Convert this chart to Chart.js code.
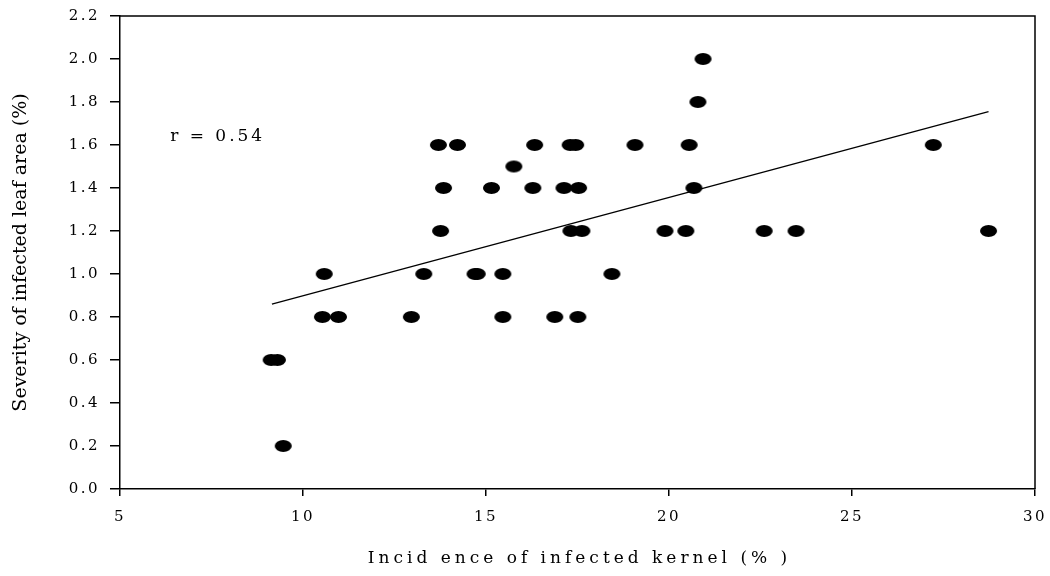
<!DOCTYPE html>
<html>
<head>
<meta charset="utf-8">
<script src="https://cdn.jsdelivr.net/npm/chart.js@4/dist/chart.umd.min.js"></script>
<style>
  html, body { margin: 0; padding: 0; background: #fff; }
  #wrap { width: 1050px; height: 576px; }
</style>
</head>
<body>
<div id="wrap"><canvas id="chart"></canvas></div>
<script>
// Incidence of infected kernel (%) vs severity of infected leaf area (%)
const incidence = [
  20.93, 20.79,
  13.70, 14.22, 16.33, 17.30, 17.45, 19.07, 20.55, 27.22,
  15.76,
  13.84, 15.15, 16.28, 17.13, 17.53, 20.68,
  13.76, 17.32, 17.62, 19.89, 20.46, 22.60, 23.47, 28.73,
  10.58, 13.30, 14.70, 14.76, 15.46, 18.44,
  10.53, 10.97, 12.96, 15.46, 16.88, 17.51,
  9.13, 9.30,
  9.46,
];
const severity = [
  2.0, 1.8,
  1.6, 1.6, 1.6, 1.6, 1.6, 1.6, 1.6, 1.6,
  1.5,
  1.4, 1.4, 1.4, 1.4, 1.4, 1.4,
  1.2, 1.2, 1.2, 1.2, 1.2, 1.2, 1.2, 1.2,
  1.0, 1.0, 1.0, 1.0, 1.0, 1.0,
  0.8, 0.8, 0.8, 0.8, 0.8, 0.8,
  0.6, 0.6,
  0.2,
];
// regression line end points
const fitX = [9.15, 28.73];
const fitY = [0.86, 1.755];

const xMin = 5, xMax = 30, xStep = 5;
const yMin = 0, yMax = 2.2, yStep = 0.2;

const xTitle = 'Incid ence of infected kernel (% )';
const yTitle = 'Severity of infected leaf area (%)';
const rLabel = 'r = 0.54';
const rLabelAt = { x: 6.37, y: 1.637 };

const SERIF = '"DejaVu Serif", "Liberation Serif", serif';

// elliptical marker (the original figure is stretched sideways)
function ellipseMarker(rx, ry) {
  const c = document.createElement('canvas');
  c.width = Math.ceil(rx * 2) + 2;
  c.height = Math.ceil(ry * 2) + 2;
  const g = c.getContext('2d');
  g.fillStyle = '#000';
  g.beginPath();
  g.ellipse(c.width / 2, c.height / 2, rx, ry, 0, 0, Math.PI * 2);
  g.fill();
  return c;
}

const spacingPlugin = {
  id: 'spacing',
  beforeLayout(chart) { chart.ctx.letterSpacing = '2.5px'; },
  beforeDraw(chart) { chart.ctx.letterSpacing = '2.5px'; },
};

const framePlugin = {
  id: 'frame',
  afterDraw(chart) {
    const { ctx, chartArea: a, scales } = chart;
    ctx.save();
    ctx.strokeStyle = '#000';
    ctx.lineWidth = 1.5;
    ctx.beginPath();
    ctx.moveTo(a.left, a.top);
    ctx.lineTo(a.right, a.top);
    ctx.lineTo(a.right, a.bottom);
    ctx.stroke();

    ctx.fillStyle = '#000';
    // r label
    ctx.letterSpacing = '3px';
    ctx.font = '17px ' + SERIF;
    ctx.textAlign = 'left';
    ctx.textBaseline = 'middle';
    ctx.fillText(rLabel, scales.x.getPixelForValue(rLabelAt.x), scales.y.getPixelForValue(rLabelAt.y));

    // x title
    ctx.letterSpacing = '4px';
    ctx.font = '17px ' + SERIF;
    ctx.textAlign = 'center';
    ctx.fillText(xTitle, (a.left + a.right) / 2 + 2, 559);

    // y title
    ctx.letterSpacing = '0px';
    ctx.font = '19px ' + SERIF;
    ctx.translate(21, (a.top + a.bottom) / 2);
    ctx.rotate(-Math.PI / 2);
    ctx.fillText(yTitle, 0, 0);
    ctx.restore();
  },
};

new Chart(document.getElementById('chart'), {
  type: 'scatter',
  data: {
    datasets: [
      {
        label: 'Observed',
        data: incidence.map((x, i) => ({ x, y: severity[i] })),
        pointStyle: ellipseMarker(8.5, 6),
        pointRadius: 7,
        pointHoverRadius: 7,
        order: 2,
      },
      {
        type: 'line',
        label: 'Fit',
        data: fitX.map((x, i) => ({ x, y: fitY[i] })),
        borderColor: '#000',
        borderWidth: 1.3,
        pointRadius: 0,
        fill: false,
        order: 1,
      },
    ],
  },
  options: {
    responsive: true,
    maintainAspectRatio: false,
    animation: false,
    layout: { padding: { left: 0, right: 15, top: 16, bottom: 0 } },
    plugins: {
      legend: { display: false },
      tooltip: { enabled: false },
    },
    scales: {
      x: {
        type: 'linear',
        min: xMin, max: xMax,
        ticks: { stepSize: xStep, color: '#000', font: { family: SERIF, size: 15 }, padding: 12, maxRotation: 0 },
        grid: { drawOnChartArea: false, color: '#000', tickLength: 7, lineWidth: 1.5 },
        border: { color: '#000', width: 1.5 },
        afterFit(s) { s.height = 576 - 489; s.paddingLeft = 0; s.paddingRight = 0; },
      },
      y: {
        type: 'linear',
        min: yMin, max: yMax,
        ticks: {
          stepSize: yStep, color: '#000', font: { family: SERIF, size: 15 }, padding: 10,
          callback: (v) => v.toFixed(1),
        },
        grid: { drawOnChartArea: false, color: '#000', tickLength: 10, lineWidth: 1.5 },
        border: { color: '#000', width: 1.5 },
        afterFit(s) { s.width = 120; s.paddingTop = 0; s.paddingBottom = 0; },
      },
    },
  },
  plugins: [spacingPlugin, framePlugin],
});
</script>
</body>
</html>
